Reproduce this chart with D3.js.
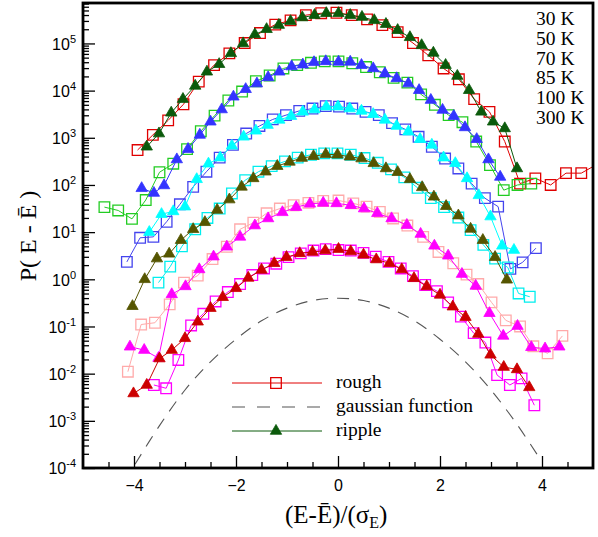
<!DOCTYPE html>
<html><head><meta charset="utf-8">
<script src="https://cdn.jsdelivr.net/npm/d3@7"></script>
<style>body{margin:0;background:#fff} svg{display:block}</style>
</head><body>
<svg id="c" width="598" height="537"></svg>
<script>
// ---------------- data ----------------
const xDomain = [-5, 5];
const yDomain = [1e-4, 7.2e5];
const xMajorTicks = [-4, -2, 0, 2, 4];
const yMajorTicks = [1e-4, 1e-3, 1e-2, 1e-1, 1e0, 1e1, 1e2, 1e3, 1e4, 1e5];
const tempLabels = ["30 K", "50 K", "70 K", "85 K", "100 K", "300 K"];
const legendLabels = ["rough", "gaussian function", "ripple"];

const rough30X = [-3.93,-3.63,-3.33,-3.03,-2.73,-2.43,-2.13,-1.83,-1.53,-1.23,-0.93,-0.63,-0.33,-0.03,0.27,0.57,0.87,1.17,1.47,1.77,2.07,2.37,2.67,2.97,3.27,3.57,3.87,4.17,4.47,4.77,5.10];
const rough30P = [550,1150,2340,5130,15500,34700,61700,102000,166000,251000,309000,398000,437000,447000,398000,324000,245000,174000,102000,56200,29500,17400,6610,3550,832,107,138,100,178,178,282];
const ripple30X = [-3.75,-3.51,-3.27,-3.04,-2.80,-2.57,-2.33,-2.10,-1.86,-1.63,-1.40,-1.16,-0.93,-0.70,-0.46,-0.23,0.01,0.24,0.47,0.71,0.94,1.17,1.41,1.64,1.87,2.11,2.34,2.57,2.81,3.04,3.27,3.51];
const ripple30P = [646,1230,3390,6610,12600,25100,36300,61700,100000,155000,200000,245000,295000,355000,398000,437000,437000,398000,363000,309000,257000,191000,135000,91200,63100,34700,20400,10200,3550,2190,1580,224];

const rough50X = [-4.58,-4.31,-4.04,-3.77,-3.50,-3.23,-2.96,-2.69,-2.42,-2.15,-1.88,-1.61,-1.34,-1.07,-0.80,-0.53,-0.26,0.01,0.28,0.55,0.82,1.09,1.36,1.63,1.90,2.17,2.44,2.71,2.98,3.25,3.52,3.79];
const rough50P = [33.9,28.8,19.1,47.9,186,282,575,1380,2950,6170,9550,15800,20900,29500,34700,38900,41700,41700,38000,31600,24500,18600,14800,8320,5010,3020,2140,832,263,77.6,100,107];
const ripple50X = [-3.85,-3.61,-3.41,-3.16,-2.94,-2.71,-2.50,-2.28,-2.05,-1.81,-1.59,-1.37,-1.15,-0.91,-0.69,-0.47,-0.24,0.01,0.24,0.46,0.69,0.92,1.15,1.38,1.59,1.82,2.05,2.27,2.49,2.72,2.95,3.18];
const ripple50P = [85.1,67.6,97.7,347,575,1150,2190,3980,7410,10700,14100,19100,25100,32400,35500,39800,41700,40700,40700,34700,29500,22900,18200,14100,10200,6310,3890,2880,1660,933,347,148];

const rough70X = [-4.14,-3.88,-3.62,-3.36,-3.10,-2.84,-2.58,-2.32,-2.06,-1.80,-1.54,-1.28,-1.02,-0.76,-0.50,-0.24,0.02,0.28,0.54,0.80,1.06,1.32,1.58,1.84,2.10,2.36,2.62,2.88,3.14,3.38,3.62,3.88];
const rough70P = [2.34,7.59,7.94,16.6,38.9,91.2,191,380,708,1230,1780,2450,3020,3720,4170,4680,4570,4170,3550,3020,2040,1510,1050,646,363,224,107,52.5,34.7,1.66,2.29,4.57];
const ripple70X = [-3.70,-3.46,-3.23,-3.00,-2.77,-2.54,-2.31,-2.08,-1.85,-1.61,-1.38,-1.15,-0.92,-0.69,-0.46,-0.23,0.00,0.23,0.46,0.69,0.92,1.15,1.38,1.61,1.84,2.07,2.30,2.53,2.76,2.99,3.22,3.45];
const ripple70P = [10.0,24.0,27.5,34.7,132,282,380,676,1050,1410,1860,2400,2880,3550,3980,4570,4570,4170,3720,3160,2400,1780,1350,933,708,380,288,138,60.3,21.4,5.13,4.17];

const rough85X = [-3.52,-3.29,-3.06,-2.80,-2.56,-2.32,-2.08,-1.82,-1.56,-1.30,-1.04,-0.79,-0.53,-0.27,-0.01,0.25,0.52,0.78,1.04,1.30,1.56,1.82,2.08,2.36,2.60,2.85,3.08,3.33,3.54,3.76];
const rough85P = [0.851,1.86,5.01,11.5,20.0,31.6,66.1,126,191,251,316,380,437,468,468,437,372,295,214,145,87.1,52.5,33.9,20.4,11.0,5.37,2.75,1.78,0.501,0.427];
const ripple85X = [-4.03,-3.79,-3.55,-3.31,-3.08,-2.84,-2.61,-2.37,-2.13,-1.89,-1.66,-1.42,-1.19,-0.95,-0.71,-0.48,-0.24,-0.01,0.23,0.46,0.70,0.94,1.17,1.41,1.65,1.88,2.12,2.36,2.60,2.84,3.08,3.31];
const ripple85P = [0.269,1.00,2.75,3.47,6.76,11.5,16.2,29.5,49.0,91.2,138,191,251,309,372,407,447,437,398,363,288,224,186,132,89.1,56.2,35.5,22.4,11.7,6.76,2.95,0.977];

const rough100X = [-4.12,-3.86,-3.59,-3.30,-3.02,-2.75,-2.46,-2.18,-1.92,-1.66,-1.40,-1.14,-0.87,-0.58,-0.29,0.01,0.30,0.56,0.82,1.08,1.36,1.67,1.97,2.26,2.52,2.75,3.01,3.29,3.57,3.83,4.11,4.40];
const rough100P = [0.011,0.110,0.120,0.295,0.851,1.20,2.69,4.90,11.5,15.8,25.1,31.6,37.2,41.7,45.7,46.8,40.7,34.7,26.9,19.5,13.8,7.94,3.80,2.19,1.26,0.794,0.324,0.135,0.100,0.038,0.0269,0.0631];
const ripple100X = [-4.08,-3.80,-3.52,-3.26,-2.99,-2.72,-2.44,-2.18,-1.92,-1.63,-1.37,-1.09,-0.82,-0.55,-0.29,-0.03,0.25,0.51,0.77,1.05,1.35,1.62,1.89,2.16,2.43,2.70,2.97,3.24,3.52,3.79,4.06,4.34];
const ripple100P = [0.0372,0.0316,0.0214,0.479,0.708,1.62,3.02,4.90,7.94,13.8,19.5,26.3,33.9,39.8,41.7,40.7,37.2,31.6,25.1,19.5,14.1,9.12,5.13,3.16,1.29,0.724,0.191,0.0631,0.102,0.0363,0.0339,0.0372];

const rough300X = [-3.61,-3.37,-3.13,-2.88,-2.64,-2.40,-2.16,-1.92,-1.68,-1.45,-1.21,-0.97,-0.73,-0.48,-0.24,0.01,0.25,0.50,0.74,0.99,1.23,1.47,1.71,1.94,2.16,2.41,2.66,2.89,3.12,3.37,3.60,3.85];
const rough300P = [0.00575,0.0049,0.0195,0.105,0.186,0.339,0.537,0.794,1.23,1.70,2.14,2.95,3.55,4.07,4.37,4.17,4.07,3.63,3.02,2.34,1.70,1.17,0.759,0.562,0.324,0.162,0.0724,0.0457,0.00933,0.00575,0.00794,0.00214];
const ripple300X = [-4.01,-3.75,-3.50,-3.26,-3.00,-2.75,-2.50,-2.26,-2.00,-1.76,-1.50,-1.25,-1.01,-0.75,-0.50,-0.25,0.01,0.25,0.50,0.75,1.01,1.25,1.49,1.74,2.00,2.25,2.50,2.75,2.99,3.25,3.51,3.75];
const ripple300P = [0.0038,0.00575,0.0209,0.0316,0.0562,0.126,0.245,0.417,0.646,1.07,1.58,2.19,2.95,3.55,3.80,4.07,4.37,3.89,3.31,2.63,2.19,1.62,1.05,0.708,0.468,0.263,0.158,0.0692,0.0251,0.0138,0.0123,0.00513];

const gaussX = [-3.98,-3.5,-3.0,-2.5,-2.0,-1.5,-1.0,-0.5,0,0.5,1.0,1.5,2.0,2.5,3.0,3.5,3.99];
const gaussP = [1.2e-4,7.9e-4,4.5e-3,0.0178,0.0537,0.132,0.245,0.355,0.398,0.355,0.245,0.132,0.0537,0.0178,0.0045,8.7e-4,1.4e-4];

// ---------------- chart ----------------
const svg = d3.select("#c");
const L = 83, R = 593, T = 3, B = 468;
const x = d3.scaleLinear().domain(xDomain).range([L, R]);
const y = d3.scaleLog().domain(yDomain).range([B, T]);

const sansFont = "'Liberation Sans', Arial, Helvetica, sans-serif";
const serifFont = "'Liberation Serif', 'Times New Roman', Times, serif";

svg.append("defs").append("clipPath").attr("id", "plotclip")
  .append("rect").attr("x", L).attr("y", T).attr("width", R - L).attr("height", B - T);

const series = [
  {x: rough30X,  p: rough30P,  color: "#e00000", kind: "sq"},
  {x: ripple30X, p: ripple30P, color: "#0b5a0b", kind: "tri"},
  {x: rough50X,  p: rough50P,  color: "#22cc22", kind: "sq"},
  {x: ripple50X, p: ripple50P, color: "#3333ff", kind: "tri"},
  {x: rough70X,  p: rough70P,  color: "#4444ee", kind: "sq"},
  {x: ripple70X, p: ripple70P, color: "#00ffff", kind: "tri"},
  {x: rough85X,  p: rough85P,  color: "#00eeee", kind: "sq"},
  {x: ripple85X, p: ripple85P, color: "#555500", kind: "tri"},
  {x: rough100X, p: rough100P, color: "#ffaaaa", kind: "sq"},
  {x: ripple100X,p: ripple100P,color: "#ff00ff", kind: "tri"},
  {x: rough300X, p: rough300P, color: "#ff00ff", kind: "sq"},
  {x: ripple300X,p: ripple300P,color: "#cc0000", kind: "tri"}
];

const sqSym = d3.symbol().type(d3.symbolSquare).size(112);
const triSym = d3.symbol().type(d3.symbolTriangle).size(56);
const line = d3.line().x(d => x(d[0])).y(d => y(d[1]));

const plot = svg.append("g").attr("clip-path", "url(#plotclip)");

// gaussian dashed curve
plot.append("path")
  .datum(d3.zip(gaussX, gaussP))
  .attr("d", d3.line().x(d => x(d[0])).y(d => y(d[1])).curve(d3.curveCatmullRom))
  .attr("fill", "none").attr("stroke", "#555").attr("stroke-width", 1.1)
  .attr("stroke-dasharray", "12,9");

series.forEach(s => {
  const pts = d3.zip(s.x, s.p);
  const g = plot.append("g");
  g.append("path").datum(pts).attr("d", line)
    .attr("fill", "none").attr("stroke", s.color).attr("stroke-width", 1);
  g.selectAll("path.m").data(pts).join("path").attr("class", "m")
    .attr("transform", d => `translate(${x(d[0])},${y(d[1])})`)
    .attr("d", s.kind === "sq" ? sqSym : triSym)
    .attr("fill", s.kind === "sq" ? "none" : s.color)
    .attr("stroke", s.color).attr("stroke-width", s.kind === "sq" ? 1.3 : 0.8);
});

// axes
const xAxis = svg.append("g").attr("transform", `translate(0,${B})`)
  .call(d3.axisBottom(x).tickValues(xMajorTicks).tickSize(-12).tickPadding(12).tickFormat(d3.format("d")));
const xMinor = d3.range(-4.5, 4.51, 0.5).filter(v => !xMajorTicks.includes(v));
svg.append("g").attr("transform", `translate(0,${B})`)
  .call(d3.axisBottom(x).tickValues(xMinor).tickSize(-6).tickFormat(""));

const yAxis = svg.append("g").attr("transform", `translate(${L},0)`)
  .call(d3.axisLeft(y).tickValues(yMajorTicks).tickSize(-12).tickPadding(7).tickFormat(""));
const yMinor = [];
for (let e = -4; e <= 5; e++) for (let k = 2; k <= 9; k++) { const v = k * Math.pow(10, e); if (v <= yDomain[1]) yMinor.push(v); }
svg.append("g").attr("transform", `translate(${L},0)`)
  .call(d3.axisLeft(y).tickValues(yMinor).tickSize(-6).tickFormat(""));

svg.selectAll(".domain").remove();
svg.selectAll(".tick line").attr("stroke", "#000").attr("stroke-width", 1.3);

xAxis.selectAll(".tick text").attr("font-family", sansFont).attr("font-size", 16).attr("fill", "#000");
yAxis.selectAll(".tick text").each(function(d) {
  const e = Math.round(Math.log10(d));
  const t = d3.select(this).attr("font-family", sansFont).attr("font-size", 16).attr("fill", "#000").attr("dy", "0.36em");
  t.append("tspan").text("10");
  t.append("tspan").attr("font-size", 11).attr("dy", "-0.62em").text(String(e));
});

// frame
svg.append("rect").attr("x", L).attr("y", T).attr("width", R - L).attr("height", B - T)
  .attr("fill", "none").attr("stroke", "#000").attr("stroke-width", 2.8);

// axis titles
svg.append("text").attr("x", 285).attr("y", 523)
  .attr("font-family", serifFont).attr("font-size", 25).attr("fill", "#000")
  .call(t => {
    t.append("tspan").text("(E-Ē)/(σ");
    t.append("tspan").attr("font-size", 16).attr("dy", 5).text("E");
    t.append("tspan").attr("dy", -5).text(")");
  });
svg.append("text").attr("transform", "translate(36,236) rotate(-90)")
  .attr("text-anchor", "middle")
  .attr("font-family", serifFont).attr("font-size", 24).attr("fill", "#000")
  .text("P( E - Ē )");

// temperature list
svg.append("g").selectAll("text").data(tempLabels).join("text")
  .attr("x", 536).attr("y", (d, i) => 25 + i * 19.8)
  .attr("font-family", serifFont).attr("font-size", 19.5).attr("fill", "#000")
  .text(d => d);

// legend
const leg = svg.append("g");
const legY = [383, 407, 431];
leg.append("line").attr("x1", 232).attr("x2", 322).attr("y1", legY[0]).attr("y2", legY[0])
  .attr("stroke", "#e00000").attr("stroke-width", 1);
leg.append("path").attr("transform", `translate(276,${legY[0]})`).attr("d", sqSym)
  .attr("fill", "none").attr("stroke", "#e00000").attr("stroke-width", 1.3);
leg.append("line").attr("x1", 232).attr("x2", 322).attr("y1", legY[1]).attr("y2", legY[1])
  .attr("stroke", "#555").attr("stroke-width", 1.1).attr("stroke-dasharray", "13,12");
leg.append("line").attr("x1", 232).attr("x2", 322).attr("y1", legY[2]).attr("y2", legY[2])
  .attr("stroke", "#0b5a0b").attr("stroke-width", 1);
leg.append("path").attr("transform", `translate(276,${legY[2]})`).attr("d", triSym)
  .attr("fill", "#0b5a0b").attr("stroke", "#0b5a0b").attr("stroke-width", 0.8);
leg.selectAll("text").data(legendLabels).join("text")
  .attr("x", 336).attr("y", (d, i) => legY[i] + 5)
  .attr("font-family", serifFont).attr("font-size", 19.5).attr("fill", "#000")
  .text(d => d);
</script>
</body></html>
